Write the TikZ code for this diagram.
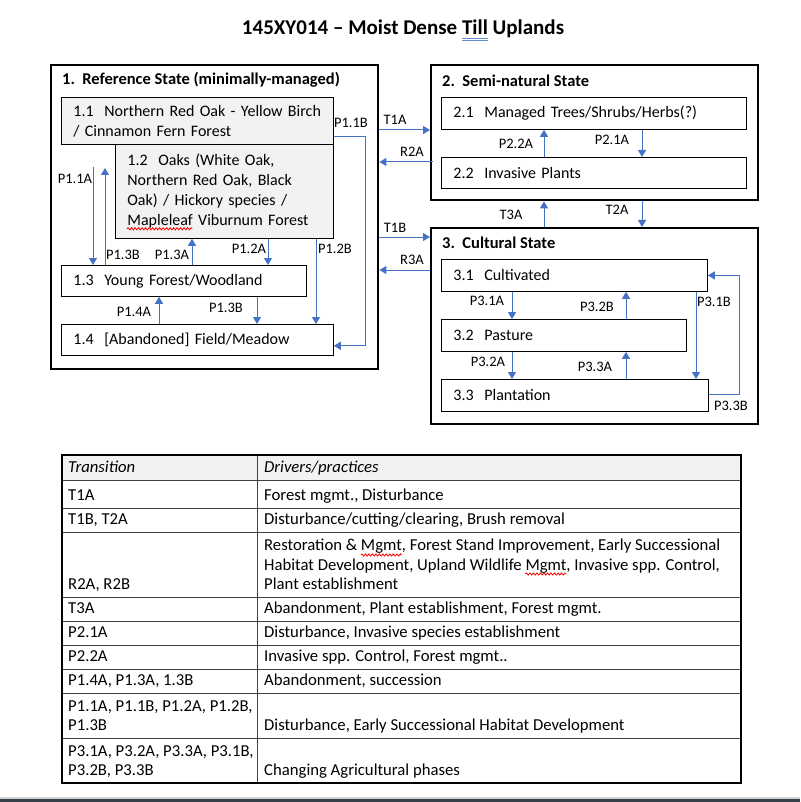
\documentclass[tikz,border=0pt]{standalone}
\usepackage{fontspec}
\setmainfont{Carlito}
\usetikzlibrary{arrows.meta,decorations.pathmorphing}

\definecolor{flowblue}{HTML}{4472C4}
\definecolor{boxgray}{HTML}{F2F2F2}
\definecolor{linegray}{HTML}{404040}
\definecolor{barslate}{HTML}{34404A}

\newcommand\titlefont{\bfseries\fontsize{21}{25}\selectfont}
\newcommand\boxfont{\fontsize{16}{20}\selectfont}
\newcommand\cellfont{\fontsize{16.7}{19.5}\selectfont}

% widths for the spell-check marks
\newlength\tillx \newlength\tillw
\newlength\maplew
\newlength\mgmtax \newlength\mgmtbx \newlength\mgmtw
\AtBeginDocument{%
  \settowidth\tillx{\titlefont 145XY014 -- Moist Dense }\global\tillx=\tillx
  \settowidth\tillw{\titlefont Till}\global\tillw=\tillw
  \settowidth\maplew{\boxfont Mapleleaf}\global\maplew=\maplew
  \settowidth\mgmtax{\cellfont Restoration \& }\global\mgmtax=\mgmtax
  \settowidth\mgmtbx{\cellfont Habitat Development, Upland Wildlife }\global\mgmtbx=\mgmtbx
  \settowidth\mgmtw{\cellfont Mgmt}\global\mgmtw=\mgmtw
}

\tikzset{
  statebox/.style={draw=black, line width=2.4pt, anchor=north west, inner sep=0pt},
  phasebox/.style={draw=black, line width=0.8pt, anchor=north west, align=left,
    inner xsep=12pt, inner ysep=0pt, font=\boxfont},
  head/.style={anchor=west, inner sep=0pt, font=\bfseries\fontsize{16.5}{20}\selectfont},
  flow/.style={draw=flowblue, line width=1pt, -{Triangle[width=8pt,length=7pt]}},
  lbl/.style={inner sep=0pt, font=\fontsize{14.5}{17}\selectfont},
  cell/.style={anchor=south west, align=left, inner sep=0pt,
    font=\cellfont, execute at end node=\strut},
  spellred/.style={draw=red, line width=0.8pt, decorate,
    decoration={snake, amplitude=1.1pt, segment length=3.5pt}},
  grammarblue/.style={draw=flowblue!80, line width=0.9pt},
}

\begin{document}
\begin{tikzpicture}[x=1pt, y=-1pt]
    \useasboundingbox[fill=white] (0,0) rectangle (800,802);

    % Title, with the double mark under "Till"
    \node[inner sep=0pt, font=\titlefont] (title) at (403,29)
        {145XY014 -- Moist Dense Till Uplands};
    \draw[grammarblue] ([xshift=\tillx,yshift=-3.5pt]title.base west) -- ++(\tillw,0);
    \draw[grammarblue] ([xshift=\tillx,yshift=-6pt]title.base west) -- ++(\tillw,0);

    % State 1: reference
    \node[statebox, minimum width=327pt, minimum height=304pt] (s1) at (50,64) {};
    \node[head] (h1) at (62,80) {1.\ \ Reference State (minimally-managed)};
    \node[phasebox, fill=boxgray, text width=248pt, minimum height=47pt] (n11) at (61,97)
        {1.1\ \ Northern Red Oak - Yellow Birch\\/ Cinnamon Fern Forest};
    \node[phasebox, fill=boxgray, text width=194pt, minimum height=94pt] (n12) at (115,144)
        {1.2\ \ Oaks (White Oak,\\Northern Red Oak, Black\\Oak) / Hickory species /\\Mapleleaf Viburnum Forest};
    \node[phasebox, text width=221pt, minimum height=31pt] (n13) at (61,265)
        {1.3\ \ Young Forest/Woodland};
    \node[phasebox, text width=248pt, minimum height=31pt] (n14) at (61,324)
        {1.4\ \ [Abandoned] Field/Meadow};
    % wavy mark under "Mapleleaf"
    \draw[spellred] ([xshift=12pt,yshift=10pt]n12.south west) -- ++(\maplew,0);

    % State 2: semi-natural
    \node[statebox, minimum width=327pt, minimum height=135pt] (s2) at (430,64) {};
    \node[head] (h2) at (442,81) {2.\ \ Semi-natural State};
    \node[phasebox, text width=281pt, minimum height=32pt] (n21) at (441,97)
        {2.1\ \ Managed Trees/Shrubs/Herbs(?)};
    \node[phasebox, text width=281pt, minimum height=31pt] (n22) at (441,157)
        {2.2\ \ Invasive Plants};

    % State 3: cultural
    \node[statebox, minimum width=327pt, minimum height=196pt] (s3) at (430,227) {};
    \node[head] (h3) at (442,243) {3.\ \ Cultural State};
    \node[phasebox, text width=242pt, minimum height=32pt] (n31) at (441,259)
        {3.1\ \ Cultivated};
    \node[phasebox, text width=221pt, minimum height=32pt] (n32) at (441,319)
        {3.2\ \ Pasture};
    \node[phasebox, text width=243pt, minimum height=32pt] (n33) at (441,379)
        {3.3\ \ Plantation};

    % Pathways inside state 1
    \coordinate (p11a) at (93,167);
    \coordinate (p13b) at (105,168);
    \draw[flow] (p11a) -- (p11a |- n13.north);
    \node[lbl] (l11a) at (75,179) {P1.1A};
    \draw[flow] (p13b |- n13.north) -- (p13b);
    \node[lbl] (l13b) at (123,255) {P1.3B};
    \draw[flow] ([xshift=131pt]n13.north west) -- ([xshift=77pt]n12.south west);
    \node[lbl] (l13a) at (172,255) {P1.3A};
    \draw[flow] ([xshift=153pt]n12.south west) -- ([xshift=207pt]n13.north west);
    \node[lbl] (l12a) at (249,249) {P1.2A};
    \draw[flow] ([xshift=201pt]n12.south west) -- ([xshift=255pt]n14.north west);
    \node[lbl] (l12b) at (335,249) {P1.2B};
    \draw[flow] ([yshift=8pt]n11.south east) -| ([xshift=32pt,yshift=10pt]n14.south east)
        -- ([yshift=10pt]n14.south east);
    \node[lbl] (l11b) at (351,123) {P1.1B};
    \draw[flow] ([xshift=196pt]n13.south west) -- ([xshift=196pt]n14.north west);
    \node[lbl] (l13c) at (226,308) {P1.3B};
    \draw[flow] ([xshift=98pt]n14.north west) -- ([xshift=98pt]n13.south west);
    \node[lbl] (l14a) at (134,312) {P1.4A};

    % Transitions between states
    \draw[flow] ([yshift=-66pt]s1.north east) -- ([yshift=-66pt]s2.north west);
    \node[lbl] (t1a) at (395,120) {T1A};
    \draw[flow] ([xshift=3pt,yshift=-98pt]s2.north west) -- ([yshift=-98pt]s1.north east);
    \node[lbl] (r2a) at (412,152) {R2A};
    \draw[flow] ([yshift=-173pt]s1.north east) -- ([yshift=-10pt]s3.north west);
    \node[lbl] (t1b) at (395,228) {T1B};
    \draw[flow] ([yshift=-43pt]s3.north west) -- ([yshift=-206pt]s1.north east);
    \node[lbl] (r3a) at (412,260) {R3A};
    \draw[flow] ([xshift=114pt]s3.north west) -- ([xshift=114pt]s2.south west);
    \node[lbl] (t3a) at (511,215) {T3A};
    \draw[flow] ([xshift=212pt]s2.south west) -- ([xshift=212pt]s3.north west);
    \node[lbl] (t2a) at (617,210) {T2A};

    % Pathways inside state 2
    \draw[flow] ([xshift=103pt]n22.north west) -- ([xshift=103pt]n21.south west);
    \node[lbl] (l22a) at (516,144) {P2.2A};
    \draw[flow] ([xshift=201pt]n21.south west) -- ([xshift=201pt]n22.north west);
    \node[lbl] (l21a) at (612,140) {P2.1A};

    % Pathways inside state 3
    \draw[flow] ([xshift=71pt]n31.south west) -- ([xshift=71pt]n32.north west);
    \node[lbl] (l31a) at (487,301) {P3.1A};
    \draw[flow] ([xshift=185pt]n32.north west) -- ([xshift=185pt]n31.south west);
    \node[lbl] (l32b) at (597,307) {P3.2B};
    \draw[flow] ([xshift=71pt]n32.south west) -- ([xshift=71pt]n33.north west);
    \node[lbl] (l32a) at (488,362) {P3.2A};
    \draw[flow] ([xshift=185pt]n33.north west) -- ([xshift=185pt]n32.south west);
    \node[lbl] (l33a) at (595,367) {P3.3A};
    \draw[flow] ([xshift=255pt]n31.south west) -- ([xshift=255pt]n33.north west);
    \node[lbl] (l31b) at (714,302) {P3.1B};
    \draw[flow] ([yshift=17pt]n33.south east) -| ([xshift=32pt]n31.east) -- (n31.east);
    \node[lbl] (l33b) at (731,406) {P3.3B};

    % Table of drivers
    \fill[boxgray] (62,455) rectangle (741,480);
    \foreach \ry in {480,508,532,597,621,645,669,693,738}
        \draw[linegray, line width=0.9pt] (62,\ry) -- (741,\ry);
    \draw[linegray, line width=0.9pt] (257,455) -- (257,783);
    \draw[black, line width=1.6pt] (62,455) rectangle (741,783);

    \node[cell] (c0a) at (68,479) {\itshape Transition};
    \node[cell] (c0b) at (264,479) {\itshape Drivers/practices};
    \node[cell] (c1a) at (68,507) {T1A};
    \node[cell] (c1b) at (264,507) {Forest mgmt., Disturbance};
    \node[cell] (c2a) at (68,531) {T1B, T2A};
    \node[cell] (c2b) at (264,531) {Disturbance/cutting/clearing, Brush removal};
    \node[cell] (c3a) at (68,596) {R2A, R2B};
    \node[cell] (c3b) at (264,596) {Restoration \& Mgmt, Forest Stand Improvement, Early Successional\\
        Habitat Development, Upland Wildlife Mgmt, Invasive spp. Control,\\Plant establishment};
    \node[cell] (c4a) at (68,620) {T3A};
    \node[cell] (c4b) at (264,620) {Abandonment, Plant establishment, Forest mgmt.};
    \node[cell] (c5a) at (68,644) {P2.1A};
    \node[cell] (c5b) at (264,644) {Disturbance, Invasive species establishment};
    \node[cell] (c6a) at (68,668) {P2.2A};
    \node[cell] (c6b) at (264,668) {Invasive spp. Control, Forest mgmt..};
    \node[cell] (c7a) at (68,692) {P1.4A, P1.3A, 1.3B};
    \node[cell] (c7b) at (264,692) {Abandonment, succession};
    \node[cell] (c8a) at (68,737) {P1.1A, P1.1B, P1.2A, P1.2B,\\P1.3B};
    \node[cell] (c8b) at (264,737) {Disturbance, Early Successional Habitat Development};
    \node[cell] (c9a) at (68,782) {P3.1A, P3.2A, P3.3A, P3.1B,\\P3.2B, P3.3B};
    \node[cell] (c9b) at (264,782) {Changing Agricultural phases};
    % wavy marks under the two "Mgmt"
    \draw[spellred] ([xshift=\mgmtax,yshift=41pt]c3b.south west) -- ++(\mgmtw,0);
    \draw[spellred] ([xshift=\mgmtbx,yshift=22pt]c3b.south west) -- ++(\mgmtw,0);

    % Window edge at the bottom
    \fill[gray!35] (0,797) rectangle (800,799);
    \fill[barslate] (0,799) rectangle (800,802);
\end{tikzpicture}
\end{document}
